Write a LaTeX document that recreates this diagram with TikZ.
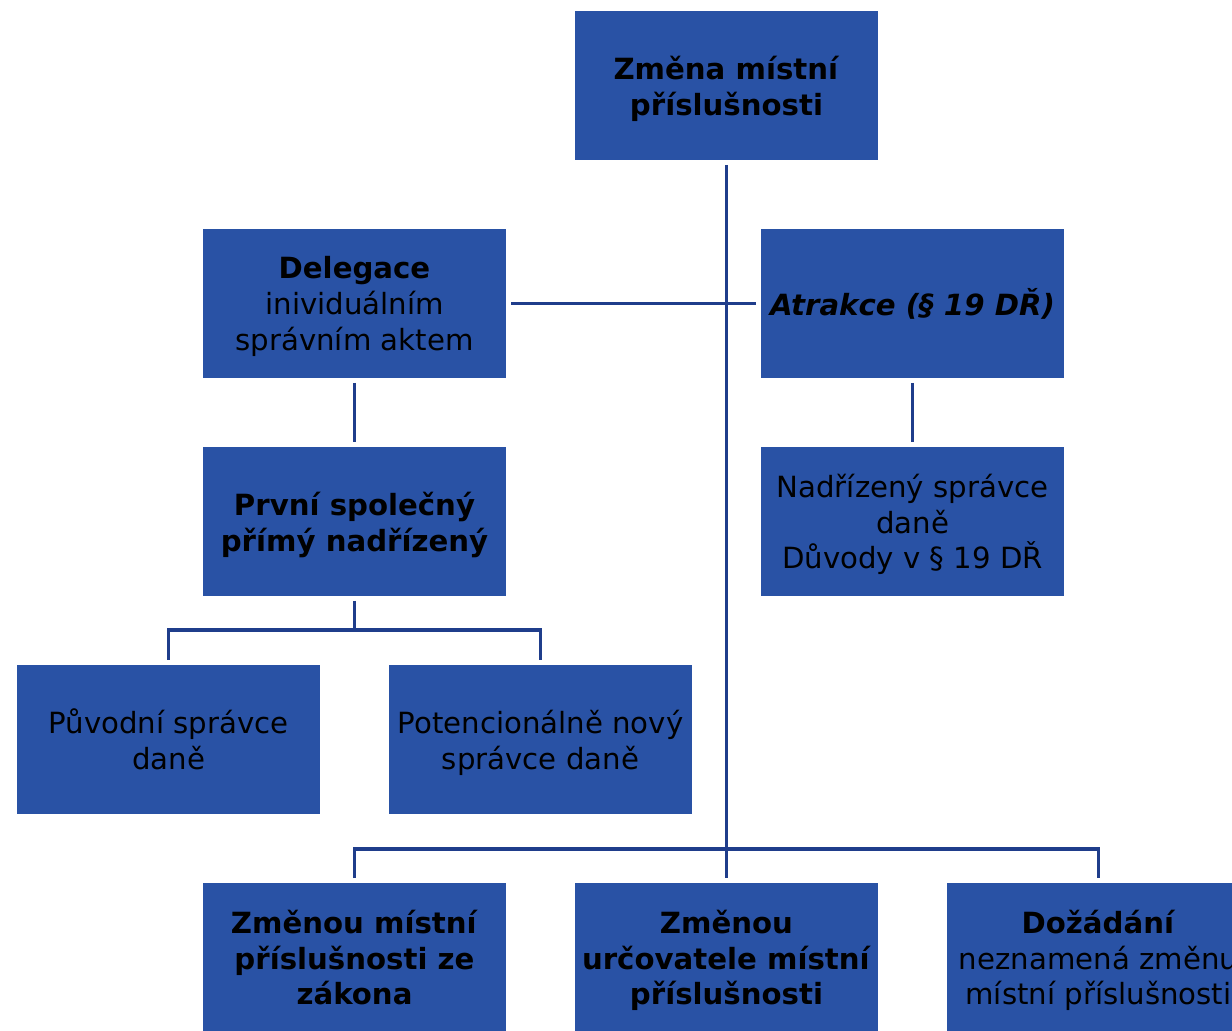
\documentclass[tikz,border=0pt]{standalone}
\usepackage{fontspec}
\setmainfont{DejaVu Sans}
\usepackage{tikz}
\definecolor{boxblue}{RGB}{41,82,165}
\definecolor{lineblue}{RGB}{31,61,139}

\begin{document}
\begin{tikzpicture}
[x=0.5pt, y=-0.5pt,
 box/.style={rectangle, fill=boxblue, minimum width=151.5pt, minimum height=74.5pt,
   inner sep=0pt, outer sep=2.5pt, align=center, font=\fontsize{14.6}{17.9}\selectfont},
 multi/.style={box, text depth=0pt, execute at end node={\vspace*{-4pt}}},
 link/.style={draw=lineblue, line width=1.6pt}]
\useasboundingbox (0,0) rectangle (1232,1031);
\clip (0,0) rectangle (1232,1031);
\node[multi] (zmena) at (726.5,85.5) {\textbf{Změna místní}\\\textbf{příslušnosti}};
\node[multi] (deleg) at (354.5,303.5) {\textbf{Delegace}\\inividuálním\\správním aktem};
\node[box] (atrak) at (912.5,303.5) {\textbf{\textit{Atrakce (§ 19 DŘ)}}};
\node[multi] (prvni) at (354.5,521.5) {\textbf{První společný}\\\textbf{přímý nadřízený}};
\node[multi] (nadriz) at (912.5,521.5) {Nadřízený správce\\daně\\Důvody v § 19 DŘ};
\node[multi] (puvod) at (168.5,739.5) {Původní správce\\daně};
\node[multi] (potenc) at (540.5,739.5) {Potencionálně nový\\správce daně};
\node[multi] (zakon) at (354.5,957.5) {\textbf{Změnou místní}\\\textbf{příslušnosti ze}\\\textbf{zákona}};
\node[multi] (urcov) at (726.5,957.5) {\textbf{Změnou}\\\textbf{určovatele místní}\\\textbf{příslušnosti}};
\node[multi] (dozad) at (1098.5,957.5) {\textbf{Dožádání}\\neznamená změnu\\místní příslušnosti};
\coordinate (fork1) at (354.5,630);
\coordinate (fork2) at (726.5,849);
% spojnice
\draw[link] (zmena) to (urcov);
\draw[link] (deleg) to (atrak);
\draw[link] (deleg) to (prvni);
\draw[link] (atrak) to (nadriz);
\draw[link] (prvni) to (fork1);
\draw[link] (puvod.north) |- (fork1) -| (potenc.north);
\draw[link] (zakon.north) |- (fork2) -| (dozad.north);
\end{tikzpicture}
\end{document}
